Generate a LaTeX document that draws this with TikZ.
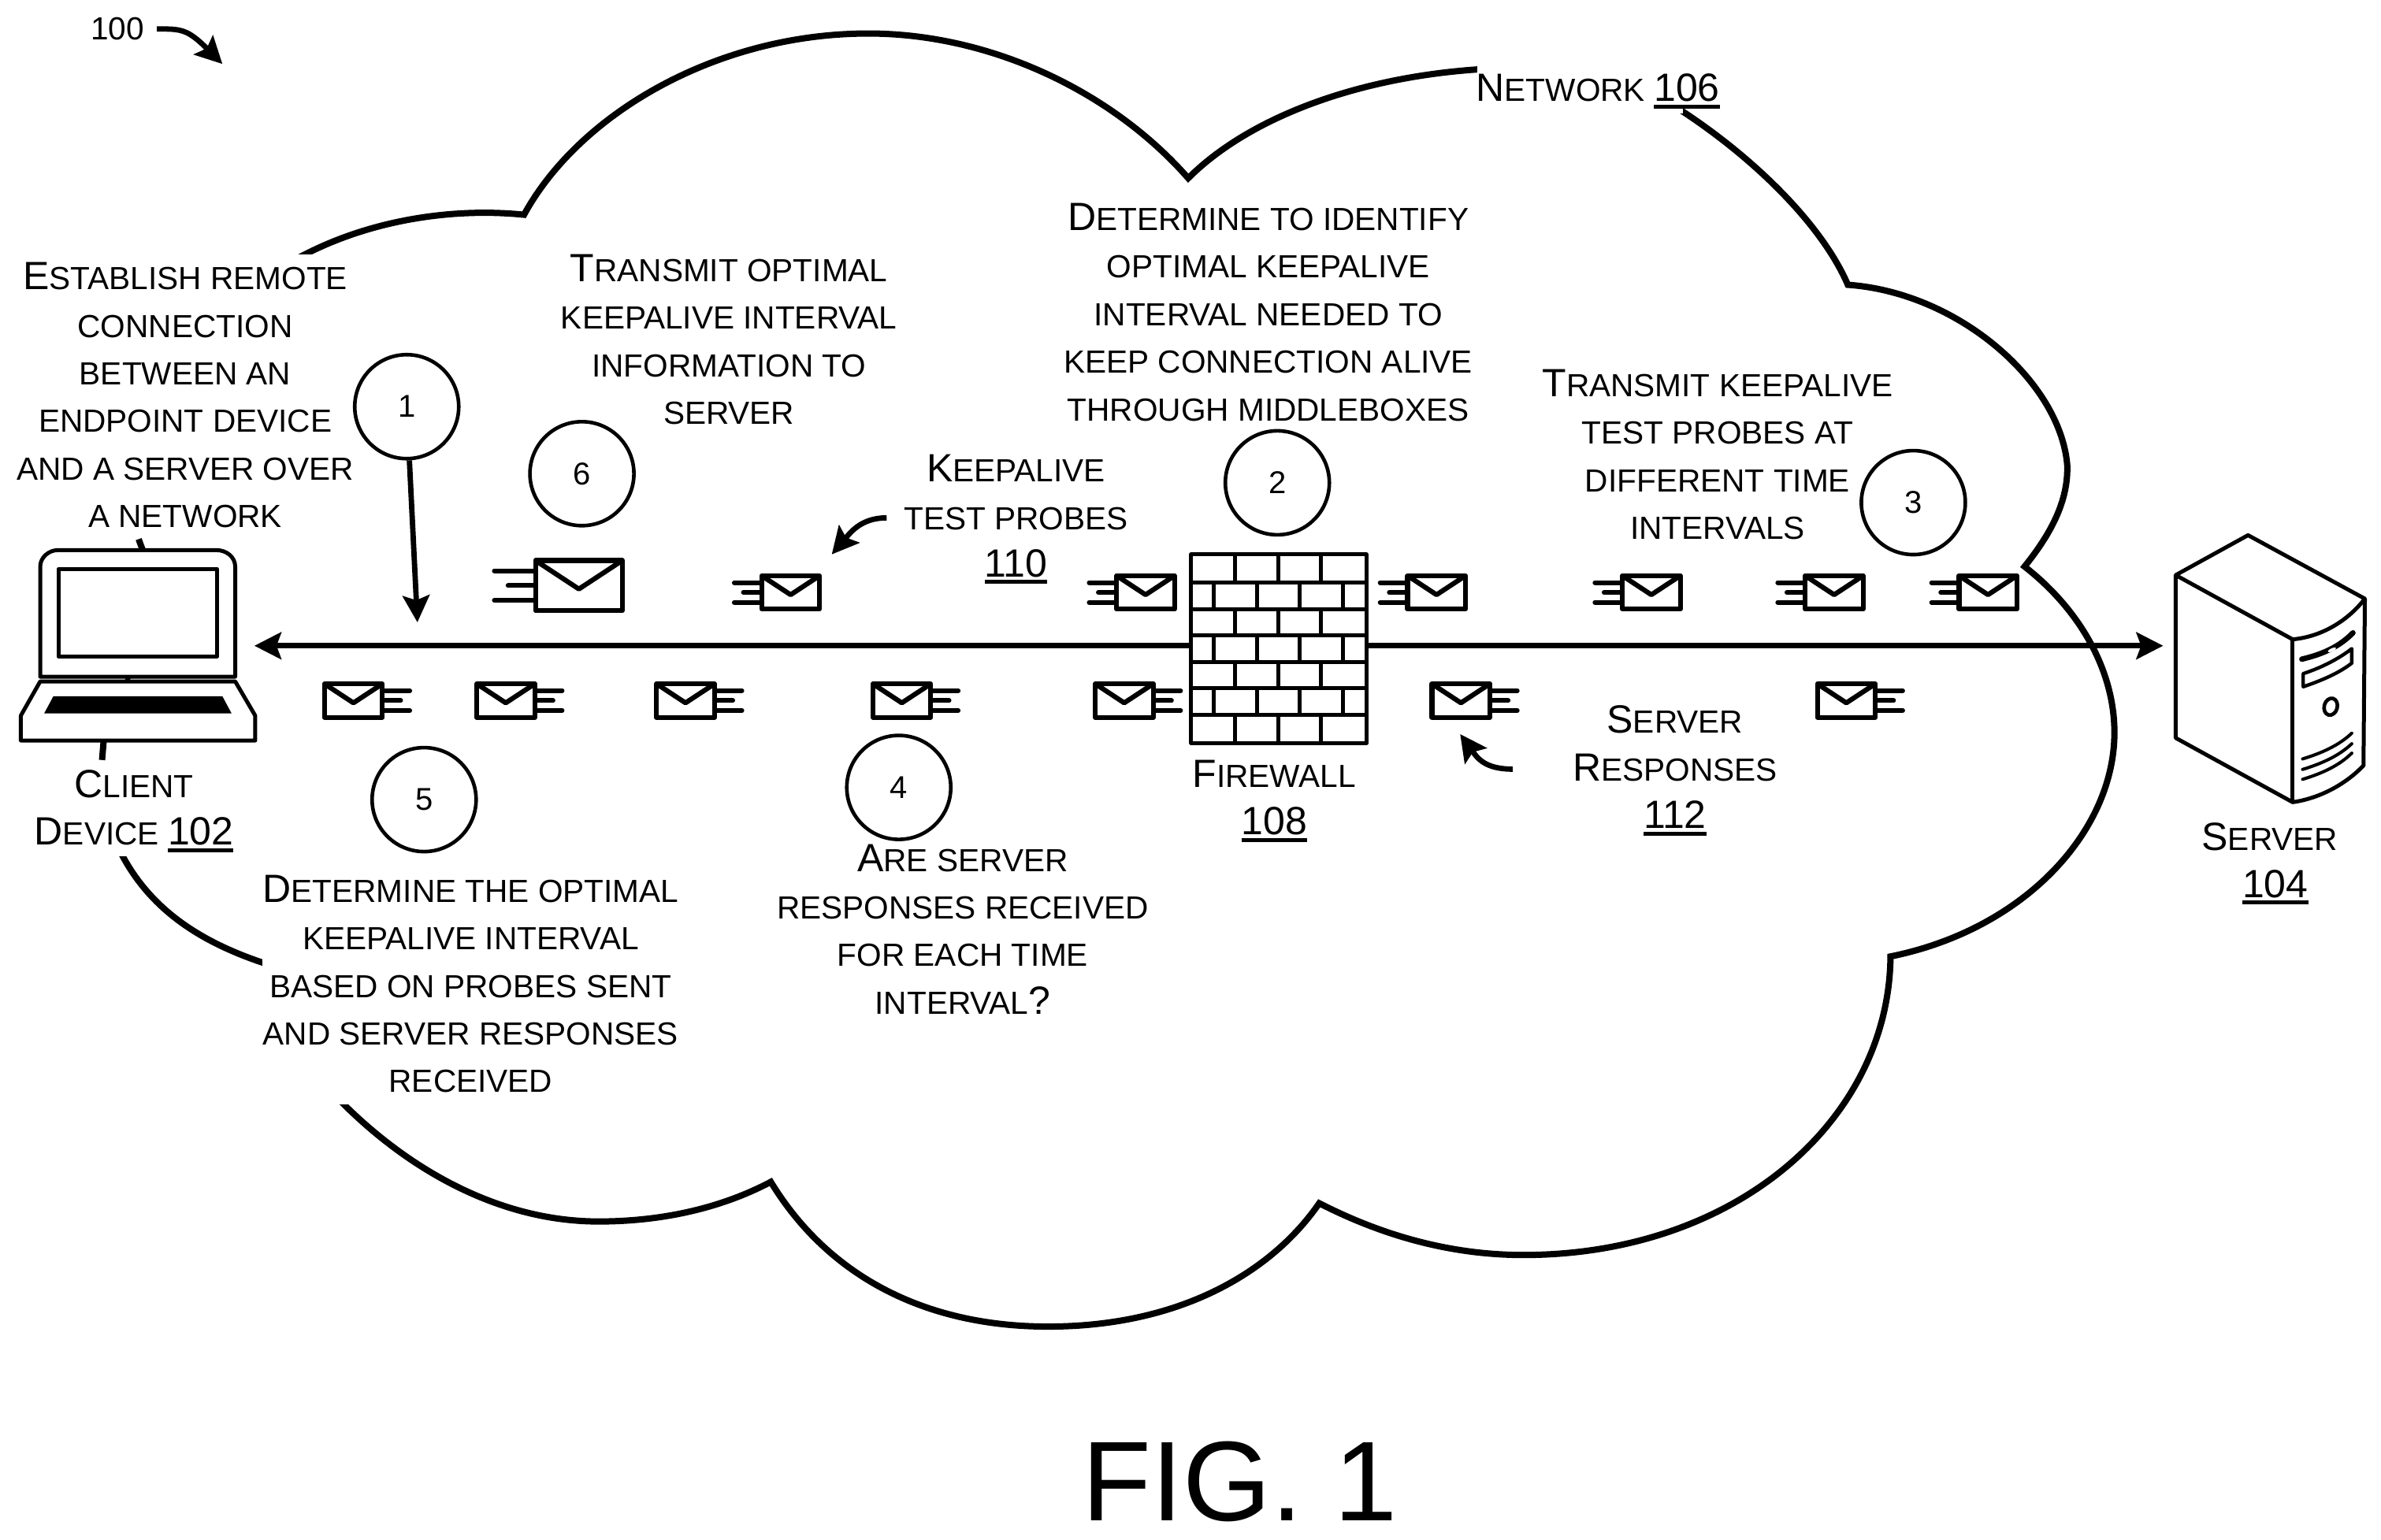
\documentclass[tikz,border=0pt]{standalone}
\usepackage{fontspec}
\setmainfont{Liberation Sans}
\usetikzlibrary{arrows.meta}
\newcommand\bc[1]{{\fontsize{25}{30}\selectfont #1}}
\newcommand\ulnum[1]{\bc{\setbox0=\hbox{#1}\rlap{\rule[-4.5pt]{\wd0}{2.5pt}}\box0}}
\tikzset{
  cloudline/.style={line width=4pt,line join=miter},
  label/.style={font=\fontsize{20.3}{30.2}\selectfont,align=center,inner sep=0pt},
  numcirc/.style={circle,draw,line width=2.3pt,minimum size=66pt,inner sep=0pt,font=\fontsize{20}{24}\selectfont},
  heavy/.style={line width=3.4pt,-{Stealth[length=17pt,width=17pt,inset=3pt]}},
  thing/.style={line width=2.5pt,line join=round},
  envr/.pic={
    \draw[line width=3.1pt,line join=round,fill=white] (-19,-11) rectangle (19,11);
    \draw[line width=3.1pt,line join=round] (-19,-11) -- (0,1.5) -- (19,-11);
    \draw[line width=3pt,line cap=round] (-20,-6.5) -- (-37,-6.5) (-20,0) -- (-31,0) (-20,6.5) -- (-37,6.5);
  },
  envl/.pic={
    \draw[line width=3.1pt,line join=round,fill=white] (-19,-11) rectangle (19,11);
    \draw[line width=3.1pt,line join=round] (-19,-11) -- (0,1.5) -- (19,-11);
    \draw[line width=3pt,line cap=round] (20,-6.5) -- (37,-6.5) (20,0) -- (31,0) (20,6.5) -- (37,6.5);
  }
}
\begin{document}
\begin{tikzpicture}[x=0.96675pt,y=-0.96675pt]
\useasboundingbox (0,0) rectangle (1563,1011.1);
\fill[white] (0,0) rectangle (1563,1011.1);
% cloud
\draw[cloudline] (186,175) .. controls (235,145) and (295,136) .. (344,141)
  .. controls (380,75) and (470,22) .. (570,22)
  .. controls (650,22) and (730,60) .. (780,117)
  .. controls (825,72) and (910,44) .. (1004,44.5);
\draw[cloudline] (1090,64) .. controls (1145,97) and (1195,145) .. (1213,187)
  .. controls (1285,192) and (1352,250) .. (1357,305)
  .. controls (1358,330) and (1345,352) .. (1329,372)
  .. controls (1365,400) and (1388,440) .. (1388,481)
  .. controls (1388,545) and (1330,610) .. (1241,628)
  .. controls (1240,735) and (1140,824) .. (1000,824)
  .. controls (950,824) and (905,810) .. (866,790)
  .. controls (835,835) and (775,871) .. (688,871)
  .. controls (610,871) and (545,840) .. (506,776)
  .. controls (470,795) and (430,802) .. (393,802)
  .. controls (325,802) and (262,765) .. (215,714);
\draw[cloudline] (76,553) .. controls (95,595) and (130,620) .. (185,636);
\draw[cloudline] (91,354) -- (93.6,361);
\draw[cloudline] (68,487) -- (67,499);
% gaps of the cloud outline behind the texts
\fill[white] (970,42.4) rectangle (1105,74.4);
\fill[white] (10,166.9) rectangle (235,352);
\fill[white] (172,570) rectangle (448,725);
\fill[white] (20,505) rectangle (160,562.3);
% main connection
\coordinate (lineL) at (167,424);
\coordinate (lineR) at (1420,424);
\draw[line width=3.5pt,{Stealth[length=17pt,width=17pt,inset=3pt]}-{Stealth[length=17pt,width=17pt,inset=3pt]}] (lineL) -- (lineR);
% laptop
\draw[thing,fill=white] (26.4,444.3) -- (26.4,372) .. controls (26.4,366) and (32,361.2) .. (38,361.2) -- (142,361.2) .. controls (149,361.2) and (154.4,366) .. (154.4,372) -- (154.4,444.3) -- cycle;
\draw[thing] (38.3,373.6) rectangle (142.5,431);
\draw[thing] (85,444.5) -- (83,447);
\draw[thing,fill=white] (26.4,447.4) -- (154.4,447.4) -- (167.5,469.8) -- (167.5,486.2) -- (13.7,486.2) -- (13.7,469.8) -- cycle;
\fill (35,457.2) -- (146,457.2) -- (152,468.4) -- (29,468.4) -- cycle;
% firewall
\draw[thing,fill=white] (782,364.1) rectangle (897,488);
\foreach \yy in {382.7,399.9,417.2,434.8,452,469.3} \draw[thing] (782,\yy) -- (897,\yy);
\foreach \ya/\yb in {364.1/382.7,399.9/417.2,434.8/452,469.3/488}
  \foreach \xx in {810.7,839,867} \draw[thing] (\xx,\ya) -- (\xx,\yb);
\foreach \ya/\yb in {382.7/399.9,417.2/434.8,452/469.3}
  \foreach \xx in {796.6,825,853,881.6} \draw[thing] (\xx,\ya) -- (\xx,\yb);
% server
\draw[line width=2.5pt,line join=round,fill=white] (1475.7,351.4) -- (1428.2,377.6) -- (1428.2,484.5) -- (1505,526.7) .. controls (1524,524) and (1541,513.8) .. (1551.5,502.6) -- (1552.4,393.1) -- cycle;
\draw[line width=2.5pt,line join=round] (1428.2,377.6) -- (1505,419.8) .. controls (1524,418) and (1541,407.8) .. (1552.4,393.1);
\draw[line width=2.5pt] (1505,419.8) -- (1505,526.7);
\draw[line width=3.4pt,line cap=round] (1511,432.8) .. controls (1525.7,429.3) and (1536,424.2) .. (1544.6,415.5);
\fill[white,rotate around={25:(1530.8,426.7)}] (1530.8,426.7) ellipse [x radius=3,y radius=1];
\draw[line width=2.2pt,line join=round] (1511.9,442.3) .. controls (1525,438) and (1536,432) .. (1543.8,425.9) -- (1543.8,435.4) .. controls (1536,441.5) and (1525,446.5) .. (1511.9,450.9) -- cycle;
\draw[line width=2.3pt,rotate around={-15:(1530,464)}] (1530,464) ellipse [x radius=4.3,y radius=5.6];
\draw[line width=2pt,line cap=round] (1511.5,498.3) .. controls (1524.5,494.3) and (1535.5,489.3) .. (1543.8,481.4);
\draw[line width=2pt,line cap=round] (1511.5,505.2) .. controls (1524.5,501.2) and (1535.5,496.2) .. (1543.8,488.3);
\draw[line width=2pt,line cap=round] (1511.5,511.7) .. controls (1524.5,507.7) and (1535.5,502.7) .. (1543.8,494.5);
% envelopes
\pic (big) at (380,384.5) [scale=1.5] {envr};
\pic (et1) at (519,389) {envr};
\pic (et2) at (752,389) {envr};
\pic (et3) at (943,389) {envr};
\pic (et4) at (1084,389) {envr};
\pic (et5) at (1204,389) {envr};
\pic (et6) at (1305,389) {envr};
\pic (eb1) at (232,460) {envl};
\pic (eb2) at (332,460) {envl};
\pic (eb3) at (450,460) {envl};
\pic (eb4) at (592,460) {envl};
\pic (eb5) at (738,460) {envl};
\pic (eb6) at (959,460) {envl};
\pic (eb7) at (1212,460) {envl};
% circles
\node[numcirc] (c1) at (267,267) {1};
\node[numcirc] (c2) at (838.5,317) {2};
\node[numcirc] (c3) at (1256,330) {3};
\node[numcirc] (c4) at (590,517) {4};
\node[numcirc] (c5) at (278.4,525) {5};
\node[numcirc] (c6) at (382,311) {6};
\coordinate (tip1) at (274,408.6);
\draw[heavy] (c1) -- (tip1);
% labels
\node[label] (t100) at (77,19) {100};
\coordinate (a100s) at (103,19);
\coordinate (a100e) at (146,42);
\draw[heavy] (a100s) .. controls (119,19) and (123,19) .. (a100e);
\node[label] (lnet) at (1049,60) {\bc{N}ETWORK \ulnum{106}};
\node[label] (lest) at (121.6,259.5) {\bc{E}STABLISH REMOTE\\CONNECTION\\BETWEEN AN\\ENDPOINT DEVICE\\AND A SERVER OVER\\A NETWORK};
\node[label] (ltr) at (478.5,223) {\bc{T}RANSMIT OPTIMAL\\KEEPALIVE INTERVAL\\INFORMATION TO\\SERVER};
\node[label] (ldet) at (832.5,205) {\bc{D}ETERMINE TO IDENTIFY\\OPTIMAL KEEPALIVE\\INTERVAL NEEDED TO\\KEEP CONNECTION ALIVE\\THROUGH MIDDLEBOXES};
\node[label] (lkeep) at (667,341) {\bc{K}EEPALIVE\\TEST PROBES\\\ulnum{110}};
\node[label] (ltk) at (1127.5,298.5) {\bc{T}RANSMIT KEEPALIVE\\TEST PROBES AT\\DIFFERENT TIME\\INTERVALS};
\node[label] (lcl) at (88,532.5) {\bc{C}LIENT\\\bc{D}EVICE \ulnum{102}};
\node[label] (lfw) at (836.5,526) {\bc{F}IREWALL\\\ulnum{108}};
\node[label] (lsr) at (1099.5,506) {\bc{S}ERVER\\\bc{R}ESPONSES\\\ulnum{112}};
\node[label] (lsv) at (1490,567) {\bc{S}ERVER\\\hspace{7pt}\ulnum{104}};
\node[label] (lare) at (632,610) {\bc{A}RE SERVER\\RESPONSES RECEIVED\\FOR EACH TIME\\INTERVAL\bc{?}};
\node[label] (lopt) at (309,646) {\bc{D}ETERMINE THE OPTIMAL\\KEEPALIVE INTERVAL\\BASED ON PROBES SENT\\AND SERVER RESPONSES\\RECEIVED};
\node[inner sep=0pt,font=\fontsize{72}{80}\selectfont] (fig) at (814,973) {FIG. 1};
% small curved arrows
\coordinate (aks) at (582,340);
\coordinate (ake) at (546,364);
\draw[heavy] (aks) .. controls (565,340) and (558,350) .. (ake);
\coordinate (ass) at (993,505);
\coordinate (ase) at (958.5,482);
\draw[heavy] (ass) .. controls (975,505) and (970,498) .. (ase);
\end{tikzpicture}
\end{document}
